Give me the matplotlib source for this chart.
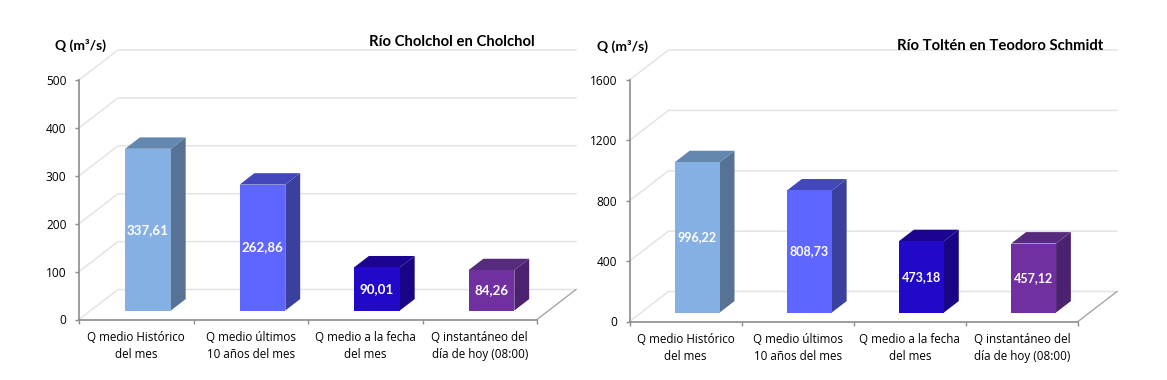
import matplotlib.pyplot as plt
from matplotlib.patches import Polygon

plt.rcParams['font.family'] = ['Open Sans', 'DejaVu Sans']

W, H = 1167, 380

categories = ['Q medio Histórico\ndel mes', 'Q medio últimos\n10 años del mes',
              'Q medio a la fecha\ndel mes', 'Q instantáneo del\ndía de hoy (08:00)']
front_colors = ['#85b0e3', '#5e66ff', '#2208c8', '#7030a0']
top_colors = ['#6487b0', '#4248bb', '#1c0490', '#562a7c']
side_colors = ['#587296', '#3b3f9e', '#1a0486', '#4a2270']

cholchol_values = [337.61, 262.86, 90.01, 84.26]
cholchol_labels = ['337,61', '262,86', '90,01', '84,26']
cholchol_ticks = [0, 100, 200, 300, 400, 500]

tolten_values = [996.22, 808.73, 473.18, 457.12]
tolten_labels = ['996,22', '808,73', '473,18', '457,12']
tolten_ticks = [0, 400, 800, 1200, 1600]

DEPTH_X = 39   # px from front plane to back wall
DEPTH_Y = 30
BAR_Z0 = 0.30
BAR_Z1 = 0.68
BAR_W = 0.40


def panel(left, right, bottom, top, values, labels, ticks, title, title_x, title_y,
          q_x, q_y, label_size):
    ax = fig.add_axes([left / W, 1 - bottom / H, (right - left) / W, (bottom - top) / H])
    ax.set_xlim(0, 4)
    ax.set_ylim(0, ticks[-1])
    dx = 4 * DEPTH_X / (right - left)
    dy = ticks[-1] * DEPTH_Y / (bottom - top)

    def pr(x, y, z):
        return (x + z * dx, y + z * dy)

    # walls
    for t in ticks:
        pts = [pr(0, t, 0), pr(0, t, 1), pr(4, t, 1)]
        ax.plot(*zip(*pts), color='#e4e4e4', lw=1.1, clip_on=False, zorder=1)
    ax.plot(*zip(pr(4, 0, 0), pr(4, 0, 1)), color='#a6a6a6', lw=1.0, clip_on=False, zorder=1)

    for i, v in enumerate(values):
        x0 = i + 0.5 - BAR_W / 2
        x1 = x0 + BAR_W
        front = [pr(x0, 0, BAR_Z0), pr(x1, 0, BAR_Z0), pr(x1, v, BAR_Z0), pr(x0, v, BAR_Z0)]
        side = [pr(x1, 0, BAR_Z0), pr(x1, 0, BAR_Z1), pr(x1, v, BAR_Z1), pr(x1, v, BAR_Z0)]
        cap = [pr(x0, v, BAR_Z0), pr(x1, v, BAR_Z0), pr(x1, v, BAR_Z1), pr(x0, v, BAR_Z1)]
        ax.add_patch(Polygon(side, fc=side_colors[i], ec='none', clip_on=False, zorder=3))
        ax.add_patch(Polygon(cap, fc=top_colors[i], ec='none', clip_on=False, zorder=3))
        ax.add_patch(Polygon(front, fc=front_colors[i], ec='none', clip_on=False, zorder=4))
        tx, ty = pr(i + 0.5, v / 2, BAR_Z0)
        ax.text(tx, ty, labels[i], color='white', fontsize=label_size, fontweight='bold',
                ha='center', va='center', family=['Lato', 'DejaVu Sans'], zorder=5)

    ax.patch.set_alpha(0)
    for s in ['top', 'right']:
        ax.spines[s].set_visible(False)
    for s in ['left', 'bottom']:
        ax.spines[s].set_color('#8c8c8c')
        ax.spines[s].set_linewidth(1.2)
        ax.spines[s].set_zorder(2)
    ax.set_yticks(ticks)
    ax.set_xticks(range(5))
    ax.set_xticklabels([])
    ax.set_xticks([i + 0.5 for i in range(4)], labels=categories, minor=True)
    ax.tick_params(axis='y', length=3, width=1.0, color='#8c8c8c', labelsize=8.6, pad=6)
    ax.tick_params(axis='x', which='major', length=3, width=1.0, color='#8c8c8c')
    ax.tick_params(axis='x', which='minor', length=0, labelsize=8.4, pad=8.5)
    for lab in ax.get_xticklabels(minor=True):
        lab.set_linespacing(1.38)

    fig.text(title_x / W, 1 - title_y / H, title, fontsize=10.7, fontweight='bold',
             ha='right', va='center', family=['Lato', 'DejaVu Sans'])
    fig.text(q_x / W, 1 - q_y / H, 'Q (m³/s)', fontsize=10, fontweight='bold',
             ha='left', va='center', family=['Lato', 'DejaVu Sans'])


fig = plt.figure(figsize=(W / 100, H / 100), dpi=100)
panel(79, 537, 319.5, 80, cholchol_values, cholchol_labels, cholchol_ticks,
      'Río Cholchol en Cholchol', 535, 42, 55, 45, 9.6)
panel(629.5, 1078, 321.5, 80, tolten_values, tolten_labels, tolten_ticks,
      'Río Toltén en Teodoro Schmidt', 1103, 46, 597, 46, 9.0)
fig.savefig('out.png', dpi=100)
